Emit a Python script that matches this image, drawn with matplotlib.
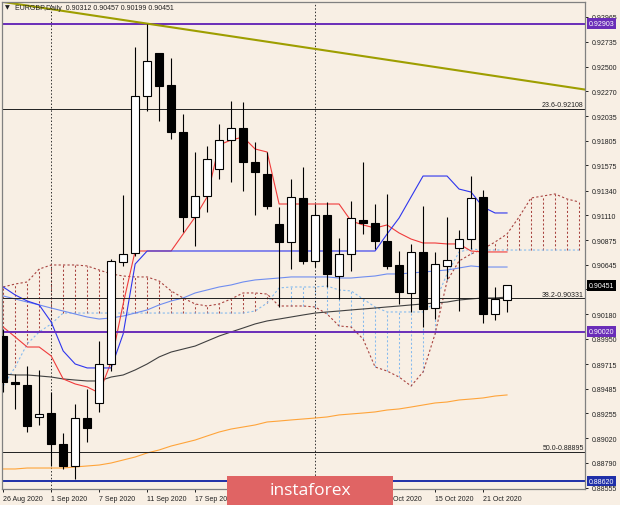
import matplotlib
matplotlib.use('Agg')
import matplotlib.pyplot as plt
import matplotlib.transforms as mtransforms
from matplotlib.patches import Rectangle

# EURGBP daily, 26 Aug 2020 .. 23 Oct 2020 (index = bar number)
opens = [0.89978, 0.89547, 0.89519, 0.89220, 0.89257, 0.88967, 0.88761, 0.89210, 0.89351, 0.89716,
         0.90671, 0.90755, 0.92225, 0.92628, 0.92328, 0.91888, 0.91092, 0.91289, 0.91542, 0.91813,
         0.91926, 0.91607, 0.91495, 0.91027, 0.90858, 0.91270, 0.90680, 0.91111, 0.90540, 0.90746,
         0.91064, 0.91036, 0.90868, 0.90643, 0.90381, 0.90765, 0.90240, 0.90634, 0.90802, 0.90886,
         0.91280, 0.90184, 0.90312]
highs = [0.90044, 0.89622, 0.89697, 0.89660, 0.89454, 0.89070, 0.89342, 0.89482, 0.89931, 0.90699,
         0.91298, 0.92684, 0.92903, 0.92628, 0.92581, 0.92057, 0.91701, 0.91757, 0.91963, 0.92178,
         0.92169, 0.91795, 0.91701, 0.91186, 0.91448, 0.91561, 0.91214, 0.91233, 0.90896, 0.91242,
         0.91607, 0.91214, 0.91308, 0.90774, 0.90840, 0.91195, 0.90765, 0.91092, 0.90971, 0.91476,
         0.91345, 0.90437, 0.90457]
lows = [0.89454, 0.89295, 0.89079, 0.89145, 0.88761, 0.88733, 0.88640, 0.88986, 0.89267, 0.89650,
        0.90634, 0.90727, 0.92085, 0.91991, 0.91823, 0.90952, 0.90821, 0.91139, 0.91448, 0.91420,
        0.91336, 0.91111, 0.91167, 0.90250, 0.90605, 0.90652, 0.90624, 0.90437, 0.90325, 0.90587,
        0.90933, 0.90793, 0.90605, 0.90278, 0.90203, 0.90062, 0.90137, 0.90512, 0.90212, 0.90793,
        0.90100, 0.90128, 0.90199]
closes = [0.89547, 0.89529, 0.89135, 0.89248, 0.88967, 0.88761, 0.89210, 0.89117, 0.89716, 0.90680,
          0.90746, 0.92225, 0.92553, 0.92319, 0.91888, 0.91092, 0.91289, 0.91635, 0.91813, 0.91926,
          0.91607, 0.91514, 0.91195, 0.90858, 0.91280, 0.90680, 0.91111, 0.90559, 0.90746, 0.91083,
          0.91036, 0.90868, 0.90634, 0.90390, 0.90765, 0.90231, 0.90652, 0.90690, 0.90886, 0.91270,
          0.90184, 0.90325, 0.90451]

# ichimoku lines
tenkan = [0.90062, 0.89969, 0.89875, 0.89875, 0.89791, 0.89576, 0.89529, 0.89501, 0.89445, 0.89735,
          0.90278, 0.90774, 0.90774, 0.90774, 0.90774, 0.90933, 0.91092, 0.91280, 0.91767, 0.91813,
          0.91841, 0.91729, 0.91701, 0.91214, 0.91214, 0.91214, 0.91214, 0.91214, 0.91214, 0.91055,
          0.91018, 0.90989, 0.91018, 0.90943, 0.90886, 0.90849, 0.90849, 0.90840, 0.90840, 0.90774,
          0.90765, 0.90765, 0.90765]
kijun = ([0.90437, 0.90362, 0.90306, 0.90269, 0.90109, 0.89838, 0.89716, 0.89679, 0.89679, 0.89679,
          0.89997, 0.90652] + [0.90774] * 20 +
         [0.90933, 0.91083, 0.91280, 0.91476, 0.91476, 0.91476, 0.91354, 0.91326, 0.91186, 0.91130, 0.91130])
# cloud runs 6 bars past the last candle
span_a = ([0.89510, 0.89688, 0.89904, 0.90016, 0.90091, 0.90193] + [0.90193] * 15 +
          [0.90212, 0.90287, 0.90428, 0.90437, 0.90437, 0.90437, 0.90446, 0.90409, 0.90400, 0.90325,
           0.90250, 0.90203, 0.90203, 0.90203, 0.90203, 0.90296, 0.90559, 0.90765, 0.90793] + [0.90783] * 9)
span_b = [0.90437, 0.90465, 0.90484, 0.90605, 0.90643, 0.90643, 0.90643, 0.90634, 0.90596, 0.90559,
          0.90540, 0.90531, 0.90531, 0.90493, 0.90400, 0.90334, 0.90278, 0.90259, 0.90278, 0.90325,
          0.90381, 0.90381, 0.90371, 0.90259, 0.90259, 0.90259, 0.90250, 0.90184, 0.90072, 0.90062,
          0.89950, 0.89688, 0.89650, 0.89594, 0.89510, 0.89641, 0.89997, 0.90493, 0.90680, 0.90746,
          0.90793, 0.90858, 0.90933, 0.91092, 0.91270, 0.91289, 0.91308, 0.91261, 0.91233]

# moving averages
ma_blue = [0.90353, 0.90325, 0.90296, 0.90269, 0.90240, 0.90212, 0.90184, 0.90156, 0.90137, 0.90147,
           0.90165, 0.90193, 0.90222, 0.90269, 0.90306, 0.90334, 0.90381, 0.90409, 0.90437, 0.90456,
           0.90484, 0.90503, 0.90512, 0.90521, 0.90531, 0.90531, 0.90531, 0.90531, 0.90521, 0.90521,
           0.90531, 0.90540, 0.90559, 0.90559, 0.90568, 0.90577, 0.90587, 0.90596, 0.90615, 0.90634,
           0.90624, 0.90624, 0.90624]
ma_dark = [0.89622, 0.89613, 0.89613, 0.89604, 0.89594, 0.89576, 0.89566, 0.89557, 0.89557, 0.89594,
           0.89613, 0.89660, 0.89716, 0.89782, 0.89828, 0.89856, 0.89884, 0.89931, 0.89978, 0.90016,
           0.90053, 0.90091, 0.90119, 0.90137, 0.90156, 0.90175, 0.90193, 0.90203, 0.90212, 0.90222,
           0.90231, 0.90240, 0.90250, 0.90259, 0.90269, 0.90278, 0.90287, 0.90296, 0.90315, 0.90325,
           0.90334, 0.90334, 0.90343]
ma_orange = [0.88733, 0.88733, 0.88742, 0.88742, 0.88742, 0.88742, 0.88752, 0.88761, 0.88770, 0.88789,
             0.88817, 0.88845, 0.88883, 0.88911, 0.88948, 0.88976, 0.89004, 0.89042, 0.89079, 0.89107,
             0.89126, 0.89145, 0.89173, 0.89182, 0.89192, 0.89201, 0.89210, 0.89220, 0.89239, 0.89248,
             0.89257, 0.89267, 0.89285, 0.89295, 0.89313, 0.89332, 0.89351, 0.89360, 0.89379, 0.89388,
             0.89398, 0.89416, 0.89426]

date_ticks = [0, 4, 8, 12, 16, 20, 24, 28, 32, 36, 40]
date_labels = ['26 Aug 2020', '1 Sep 2020', '7 Sep 2020', '11 Sep 2020', '17 Sep 2020', '23 Sep 2020',
               '29 Sep 2020', '5 Oct 2020', '9 Oct 2020', '15 Oct 2020', '21 Oct 2020']
price_ticks = [0.92965, 0.92735, 0.92500, 0.92270, 0.92035, 0.91805, 0.91575, 0.91340, 0.91110, 0.90875,
               0.90645, 0.90415, 0.90180, 0.89950, 0.89715, 0.89485, 0.89255, 0.89020, 0.88790, 0.88555]
hidden_tick = 0.90415         # covered by the last-price box
separators = [4, 26]          # 1 Sep, 1 Oct
purple_levels = [0.92903, 0.90020]
blue_level = 0.88620
fib_levels = [0.92108, 0.90331, 0.88895]
fib_names = ['23.6', '38.2', '50.0']
trend_a = (12, 0.92903)
trend_b = (48, 0.92294)

BG = '#F8EFE4'
PURPLE = '#6A2DB8'
BLUE_LVL = '#1F2FA8'
BROWN = '#A8433F'
LBLUE = '#86BBEE'
FONT = ['Liberation Sans', 'DejaVu Sans']
plt.rcParams['font.family'] = FONT

fig = plt.figure(figsize=(6.2, 5.06), dpi=100, facecolor=BG)
ax = fig.add_axes([2 / 620, 16 / 506, 583 / 620, 487 / 506])
ax.set_facecolor(BG)

n = len(closes)
bars = list(range(n))
cloud_x = list(range(len(span_a)))

# cloud hatch + spans
dots = (0, (2, 2))
for i in cloud_x:
    a, b = span_a[i], span_b[i]
    col = LBLUE if a >= b else BROWN
    ax.vlines(i, min(a, b), max(a, b), colors=col, linestyles=dots, lw=0.75, zorder=1)
ax.plot(cloud_x, span_b, color=BROWN, ls=dots, lw=0.8, zorder=1.2)
ax.plot(cloud_x, span_a, color=LBLUE, ls=dots, lw=0.8, zorder=1.2)

# moving averages and ichimoku lines
ax.plot(bars, ma_orange, color='#FFA43A', lw=0.8, zorder=1.5)
ax.plot(bars, ma_dark, color='#404040', lw=0.8, zorder=1.5)
ax.plot(bars, ma_blue, color='#6F8DF0', lw=0.8, zorder=1.5)
ax.plot(bars, tenkan, color='#F03B3B', lw=0.8, zorder=1.6)
ax.plot(bars, kijun, color='#2E35EE', lw=0.8, zorder=1.7)

# horizontal levels and trend line
ytrans = mtransforms.blended_transform_factory(ax.transAxes, ax.transData)
for lv in purple_levels:
    ax.axhline(lv, color=PURPLE, lw=1.4, zorder=2)
ax.axhline(blue_level, color=BLUE_LVL, lw=1.4, zorder=2)
for lv, name in zip(fib_levels, fib_names):
    ax.axhline(lv, color='#202020', lw=0.7, zorder=2)
    ax.text(0.998, lv + 0.00004, f'{name}-{lv:.5f}', transform=ytrans,
            ha='right', va='bottom', fontsize=5, color='#202020', zorder=4)
ax.axline(trend_a, trend_b, color='#9E9E00', lw=1.5, zorder=2.2)
for s in separators:
    ax.axvline(s, color='#303030', ls=(0, (1.5, 2)), lw=0.7, zorder=1)

# candles
w = 0.66
for i in bars:
    o, h, l, c = opens[i], highs[i], lows[i], closes[i]
    ax.vlines(i, l, h, colors='black', lw=0.8, zorder=3)
    fc = 'white' if c >= o else 'black'
    ax.bar(i, max(abs(c - o), 0.00002), bottom=min(o, c), width=w, facecolor=fc,
           edgecolor='black', lw=0.8, zorder=3.5)

ax.set_xlim(-0.1, 48.5)
ax.set_ylim(0.885455, 0.931054)

ax.yaxis.tick_right()
ax.set_yticks(price_ticks)
ax.set_yticklabels(['' if p == hidden_tick else f'{p:.5f}' for p in price_ticks])
ax.tick_params(axis='y', length=2.5, width=0.7, pad=2, labelsize=5, colors='#202020')
ax.set_xticks(date_ticks)
ax.set_xticklabels(date_labels)
ax.tick_params(axis='x', length=2.5, width=0.7, pad=2, labelsize=5, colors='#202020')
for lab in ax.get_xticklabels():
    lab.set_ha('left')
for sp in ax.spines.values():
    sp.set_color('#808080')
    sp.set_linewidth(0.9)

# highlighted price labels on the right axis
boxes = [(purple_levels[0], PURPLE), (closes[-1], 'black'), (purple_levels[1], PURPLE), (blue_level, BLUE_LVL)]
for val, col in boxes:
    ax.annotate(f'{val:.5f}', xy=(1.0, val), xycoords=ytrans, xytext=(2.5, 0), textcoords='offset points',
                ha='left', va='center', fontsize=5, color='white', zorder=6, annotation_clip=False,
                bbox=dict(boxstyle='square,pad=0.25', fc=col, ec='none'))

# header
fig.text(5 / 620, 1 - 8 / 506, '\u25bc', fontsize=4.5, va='center', color='#202020', family=['DejaVu Sans'])
fig.text(15 / 620, 1 - 8 / 506, f'EURGBP,Daily  {opens[-1]:.5f} {highs[-1]:.5f} {lows[-1]:.5f} {closes[-1]:.5f}',
         fontsize=5, va='center', color='#202020')

# watermark logo
fig.add_artist(Rectangle((227 / 620, 0), 166 / 620, 29 / 506, transform=fig.transFigure,
                         facecolor='#E06464', edgecolor='none', zorder=10))
fig.text(310 / 620, 15 / 506, 'instaforex', fontsize=12.5, color='white', ha='center', va='center',
         zorder=11, family=['Open Sans', 'DejaVu Sans'])

fig.savefig('out.png', dpi=100, facecolor=BG)
